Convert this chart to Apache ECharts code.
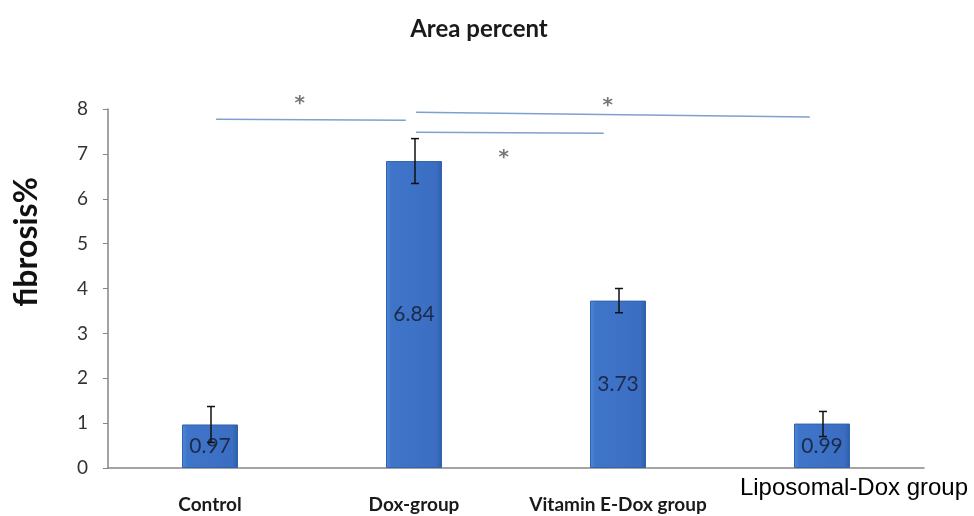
<!DOCTYPE html>
<html>
<head>
<meta charset="utf-8">
<script src="https://cdn.jsdelivr.net/npm/echarts@6/dist/echarts.min.js"></script>
<style>html,body{margin:0;padding:0;background:#fff;}#c{width:974px;height:516px;}</style>
</head>
<body>
<div id="c"></div>
<script>
// ---- data ----
var categories = ['Control', 'Dox-group', 'Vitamin E-Dox group', 'Liposomal-Dox group'];
var values = [0.97, 6.84, 3.73, 0.99];
var errLow = [0.57, 6.34, 3.46, 0.70];
var errHigh = [1.37, 7.34, 4.00, 1.26];
var yTicks = [0, 1, 2, 3, 4, 5, 6, 7, 8];
// significance brackets: [x0, y0, x1, y1] in category-index units / fibrosis%
var sigLines = [
  [0.03, 7.77, 0.96, 7.75],
  [1.01, 7.93, 2.94, 7.82],
  [1.01, 7.48, 1.93, 7.46]
];
// asterisk positions [x, y]
var stars = [[0.44, 8.22], [1.95, 8.19], [1.44, 7.03]];

var chart = echarts.init(document.getElementById('c'));
var series = [];
series.push({
  type: 'bar',
  data: values,
  barWidth: 56,
  itemStyle: {
    color: new echarts.graphic.LinearGradient(0, 0, 1, 0, [
      {offset: 0, color: '#5288d8'},
      {offset: 0.1, color: '#3f75c9'},
      {offset: 0.9, color: '#3b6ec2'},
      {offset: 1, color: '#2f5ea8'}
    ]),
    borderColor: '#3163ad',
    borderWidth: 1
  },
  label: {
    show: true, position: 'inside',
    fontFamily: 'Lato', fontSize: 21, color: '#1c2b4a',
    formatter: function (p) { return p.value.toFixed(2); }
  },
  z: 2
});
series.push({
  type: 'custom',
  data: categories.map(function (c, i) { return [i, errLow[i], errHigh[i]]; }),
  renderItem: function (params, api) {
    var lo = api.coord([api.value(0), api.value(1)]);
    var hi = api.coord([api.value(0), api.value(2)]);
    var x = lo[0] + 1, w = 4;
    var st = {stroke: '#111', lineWidth: 1.5};
    return {type: 'group', children: [
      {type: 'line', shape: {x1: x, y1: lo[1], x2: x, y2: hi[1]}, style: st},
      {type: 'line', shape: {x1: x - w, y1: lo[1], x2: x + w, y2: lo[1]}, style: st},
      {type: 'line', shape: {x1: x - w, y1: hi[1], x2: x + w, y2: hi[1]}, style: st}
    ]};
  },
  z: 5
});
sigLines.forEach(function (l) {
  series.push({
    type: 'line', xAxisIndex: 1, clip: false, symbol: 'none', silent: true,
    lineStyle: {color: '#7f9fd0', width: 1.5},
    data: [[l[0], l[1]], [l[2], l[3]]]
  });
});
series.push({
  type: 'scatter', xAxisIndex: 1, clip: false, symbolSize: 1,
  itemStyle: {color: 'rgba(0,0,0,0)'},
  label: {show: true, position: 'inside', formatter: '*', fontFamily: 'DejaVu Sans', fontWeight: 'bold', fontSize: 20, color: '#555', offset: [0, 5]},
  data: stars
});

chart.setOption({
  animation: false,
  title: {
    text: 'Area percent', left: 474, top: 12, textAlign: 'center',
    textStyle: {fontFamily: 'Lato', fontWeight: 'bold', fontSize: 24, color: '#1a1a1a'}
  },
  grid: {left: 108, right: 50, top: 109, bottom: 48},
  xAxis: [{
    type: 'category',
    data: categories.map(function (c, i) {
      return i === 3 ? {value: c, textStyle: {fontFamily: 'Liberation Sans', fontWeight: 'normal', fontSize: 24, color: '#000', padding: [0, 0, 0, 64]}} : c;
    }),
    axisLine: {onZero: false, lineStyle: {color: '#868686', width: 1.5}},
    axisTick: {show: false},
    axisLabel: {interval: 0, margin: 8, fontFamily: 'Lato', fontWeight: 'bold', fontSize: 19, color: '#1a1a1a', padding: [19, 0, 0, 0]}
  }, {
    type: 'value', min: -0.5, max: 3.5, show: false
  }],
  yAxis: {
    type: 'value', min: yTicks[0], max: yTicks[yTicks.length - 1], interval: 1,
    splitLine: {show: false},
    axisLine: {show: true, onZero: false, lineStyle: {color: '#868686', width: 1.5}},
    axisTick: {show: true, length: 5, lineStyle: {color: '#868686'}},
    axisLabel: {fontFamily: 'Lato', fontSize: 19, color: '#333', margin: 20}
  },
  graphic: [{
    type: 'text', x: 27, y: 242, rotation: Math.PI / 2,
    style: {text: 'fibrosis%', fontFamily: 'Lato', fontWeight: 'bold', fontSize: 32, fill: '#111', textAlign: 'center', textVerticalAlign: 'middle'}
  }],
  series: series
});
</script>
</body>
</html>
